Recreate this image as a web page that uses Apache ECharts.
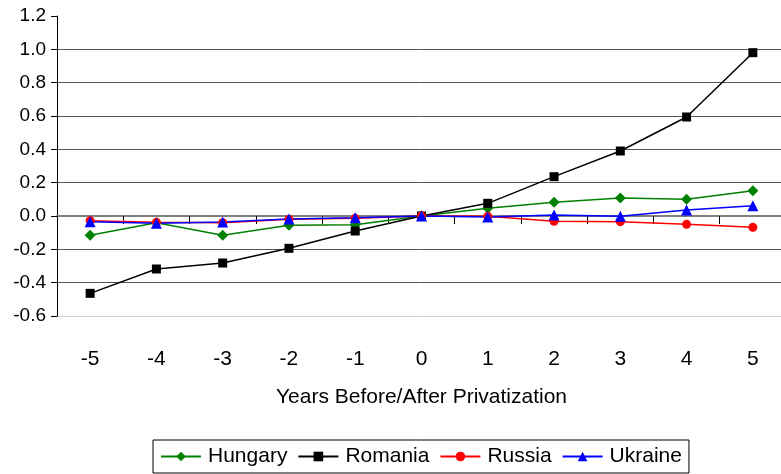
<!DOCTYPE html>
<html lang="en">

<head>
    <meta charset="UTF-8" />
    <title>Years Before/After Privatization</title>
    <script src="https://cdn.jsdelivr.net/npm/echarts@6/dist/echarts.min.js"></script>
    <style>
        html, body { margin: 0; padding: 0; background: #fff; }
        #chart { width: 781px; height: 474px; }
    </style>
</head>

<body>
    <div id="chart"></div>
    <script>
        // years relative to privatization
        var years = ["-5", "-4", "-3", "-2", "-1", "0", "1", "2", "3", "4", "5"];
        var hungary = [-0.115, -0.04, -0.115, -0.056, -0.052, 0, 0.046, 0.082, 0.108, 0.10, 0.152];
        var romania = [-0.464, -0.318, -0.282, -0.194, -0.09, 0, 0.076, 0.236, 0.39, 0.594, 0.98];
        var russia = [-0.028, -0.038, -0.04, -0.02, -0.014, 0, -0.002, -0.032, -0.034, -0.05, -0.068];
        var ukraine = [-0.034, -0.044, -0.036, -0.018, -0.01, 0, -0.006, 0.006, -0.002, 0.036, 0.062];
        var yTicks = { min: -0.6, max: 1.2, step: 0.2 };

        var font = "'Liberation Sans', Arial, sans-serif";

        function makeSeries(name, data, color, symbol, size) {
            return {
                name: name,
                type: "line",
                data: data,
                xAxisIndex: 0,
                symbol: symbol,
                symbolSize: size,
                lineStyle: { color: color, width: 1.5 },
                itemStyle: { color: color },
                animation: false
            };
        }

        var myChart = echarts.init(document.getElementById("chart"));
        var option = {
            backgroundColor: "#fff",
            grid: { left: 57, top: 16, width: 729, height: 300, containLabel: false, outerBoundsMode: "none" },
            xAxis: [
                {
                    // axis line through zero with ticks between years
                    type: "category",
                    data: years,
                    position: "bottom",
                    axisLine: { onZero: true, lineStyle: { color: "#808080", width: 2 } },
                    axisTick: { show: true, length: 8, lineStyle: { color: "#000" } },
                    axisLabel: { show: false },
                    splitLine: { show: false }
                },
                {
                    // labels and title at the bottom
                    type: "category",
                    data: years,
                    position: "bottom",
                    axisLine: { show: false, onZero: false },
                    axisTick: { show: false },
                    axisLabel: { margin: 33, fontSize: 21, color: "#000", fontFamily: font },
                    name: "Years Before/After Privatization",
                    nameLocation: "middle",
                    nameGap: 71,
                    nameTextStyle: { fontSize: 21, color: "#000", fontFamily: font },
                    splitLine: { show: false }
                }
            ],
            yAxis: {
                type: "value",
                min: yTicks.min,
                max: yTicks.max,
                interval: yTicks.step,
                axisLine: { show: true, lineStyle: { color: "#000" } },
                axisTick: { show: true, length: 6, lineStyle: { color: "#000" } },
                axisLabel: {
                    margin: 11,
                    fontSize: 19,
                    color: "#000",
                    fontFamily: font,
                    formatter: function (v) { return v.toFixed(1); }
                },
                splitLine: {
                    show: true,
                    showMaxLine: false,
                    lineStyle: {
                        color: ["#d0d0d0", "#555", "#555", "#808080", "#555", "#555", "#555", "#555", "#555", "#555"],
                        width: 1
                    }
                }
            },
            legend: {
                left: 153,
                bottom: 1,
                orient: "horizontal",
                itemWidth: 40,
                itemHeight: 12,
                itemGap: 10,
                padding: [6, 7],
                borderColor: "#000",
                borderWidth: 1,
                textStyle: { fontSize: 21, color: "#000", fontFamily: font, padding: [0, 0, 0, 2] },
                data: ["Hungary", "Romania", "Russia", "Ukraine"]
            },
            series: [
                makeSeries("Hungary", hungary, "#008000", "diamond", 11),
                makeSeries("Romania", romania, "#000000", "rect", 9),
                makeSeries("Russia", russia, "#ff0000", "circle", 9),
                makeSeries("Ukraine", ukraine, "#0000ff", "triangle", 11)
            ]
        };
        myChart.setOption(option);
    </script>
</body>

</html>
